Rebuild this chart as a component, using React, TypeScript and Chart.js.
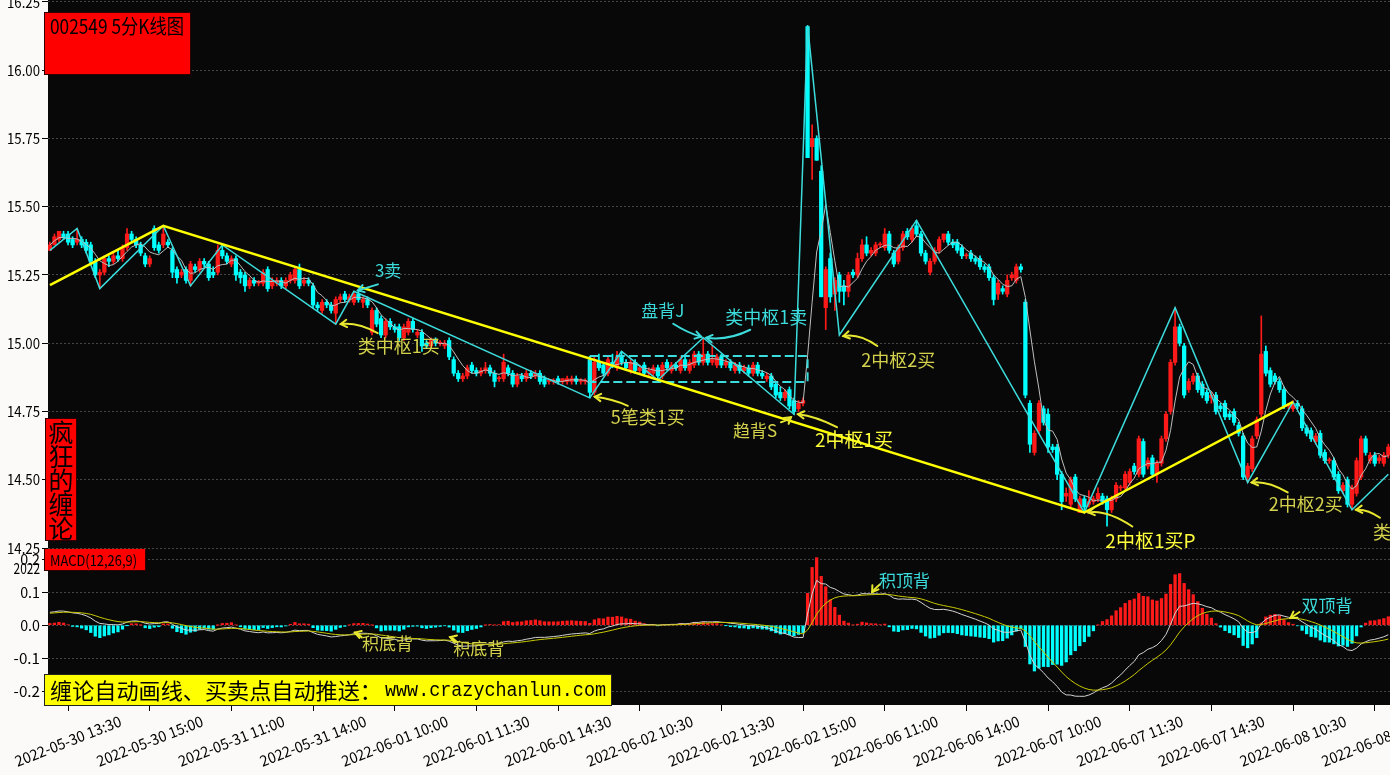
import React, { useEffect, useRef } from "react";
import { Chart, registerables } from "chart.js";

Chart.register(...registerables);

type Bar = [number, number, number, number]; // open, high, low, close

// ---------------- 5-minute candles, per trading day ----------------
const d0530: Bar[] = [
  [15.34,15.37,15.34,15.36],[15.36,15.40,15.36,15.39],[15.38,15.41,15.37,15.41],[15.40,15.41,15.38,15.39],
  [15.40,15.41,15.36,15.37],[15.38,15.39,15.35,15.36],[15.37,15.42,15.36,15.38],[15.38,15.39,15.35,15.36],
  [15.37,15.38,15.33,15.34],[15.36,15.37,15.29,15.30],[15.30,15.31,15.24,15.25],[15.25,15.27,15.20,15.26],
  [15.26,15.32,15.25,15.31],[15.31,15.32,15.28,15.30],[15.30,15.33,15.29,15.32],[15.32,15.34,15.30,15.31],
  [15.31,15.36,15.30,15.35],[15.35,15.42,15.34,15.40],[15.40,15.41,15.37,15.38],[15.38,15.39,15.35,15.36],
  [15.36,15.37,15.32,15.33],[15.32,15.33,15.28,15.29],[15.29,15.32,15.28,15.31],
];
const d0531: Bar[] = [
  [15.42,15.43,15.34,15.35],[15.36,15.37,15.33,15.34],[15.36,15.43,15.35,15.40],[15.37,15.38,15.35,15.36],
  [15.34,15.35,15.24,15.26],[15.27,15.28,15.22,15.24],[15.25,15.27,15.24,15.26],[15.27,15.28,15.22,15.23],
  [15.23,15.30,15.21,15.29],[15.28,15.29,15.26,15.27],[15.27,15.31,15.26,15.30],[15.30,15.31,15.28,15.29],
  [15.29,15.30,15.23,15.24],[15.26,15.28,15.24,15.25],[15.26,15.36,15.25,15.34],[15.34,15.36,15.31,15.32],
  [15.32,15.33,15.29,15.30],[15.29,15.32,15.28,15.31],[15.31,15.32,15.23,15.25],[15.26,15.27,15.22,15.24],
  [15.25,15.26,15.19,15.21],[15.21,15.24,15.20,15.23],[15.23,15.24,15.21,15.22],[15.22,15.23,15.21,15.22],
  [15.22,15.27,15.21,15.26],[15.27,15.28,15.19,15.20],[15.21,15.24,15.20,15.23],[15.22,15.24,15.21,15.23],
  [15.23,15.24,15.20,15.21],[15.21,15.24,15.20,15.23],[15.23,15.26,15.22,15.25],[15.23,15.28,15.22,15.27],
  [15.27,15.29,15.20,15.21],[15.22,15.24,15.21,15.23],[15.23,15.24,15.21,15.22],[15.21,15.22,15.13,15.14],
  [15.14,15.15,15.12,15.13],[15.12,15.16,15.11,15.15],[15.15,15.16,15.13,15.14],[15.14,15.15,15.11,15.12],
  [15.11,15.17,15.07,15.16],[15.16,15.18,15.15,15.17],[15.18,15.19,15.15,15.16],[15.16,15.18,15.15,15.17],
  [15.15,15.19,15.14,15.18],[15.18,15.19,15.15,15.16],[15.15,15.17,15.13,15.16],[15.16,15.17,15.13,15.14],
];
const d0601: Bar[] = [
  [15.04,15.13,15.03,15.12],[15.12,15.13,15.06,15.07],[15.09,15.10,15.02,15.03],[15.03,15.09,15.02,15.08],
  [15.08,15.09,15.05,15.06],[15.06,15.07,15.04,15.05],[15.06,15.07,15.01,15.02],[15.02,15.07,15.01,15.06],
  [15.04,15.09,15.03,15.08],[15.08,15.09,15.04,15.05],[15.03,15.05,15.02,15.04],[15.04,15.05,14.97,14.99],
  [15.00,15.01,14.98,14.99],[14.99,15.02,14.98,15.01],[15.01,15.02,14.99,15.00],[15.00,15.01,14.99,15.00],
  [14.99,15.01,14.98,15.00],[15.01,15.02,14.94,14.95],[14.94,14.95,14.88,14.89],[14.89,14.90,14.86,14.87],
  [14.87,14.89,14.86,14.88],[14.88,14.92,14.87,14.91],[14.92,14.93,14.89,14.90],[14.90,14.91,14.88,14.89],
  [14.89,14.91,14.88,14.90],[14.90,14.93,14.89,14.91],[14.91,14.92,14.88,14.89],[14.89,14.90,14.84,14.86],
  [14.87,14.88,14.86,14.87],[14.87,14.96,14.86,14.93],[14.91,14.92,14.88,14.89],[14.89,14.90,14.84,14.85],
  [14.85,14.89,14.84,14.88],[14.88,14.89,14.86,14.87],[14.87,14.90,14.86,14.89],[14.89,14.90,14.87,14.88],
  [14.88,14.90,14.87,14.89],[14.89,14.90,14.85,14.86],[14.87,14.88,14.84,14.85],[14.86,14.87,14.85,14.86],
  [14.86,14.87,14.85,14.86],[14.87,14.88,14.85,14.86],[14.86,14.87,14.85,14.87],[14.86,14.88,14.85,14.87],
  [14.86,14.88,14.85,14.87],[14.87,14.88,14.85,14.86],[14.86,14.87,14.85,14.86],[14.86,14.87,14.85,14.86],
];
const d0602: Bar[] = [
  [14.94,14.95,14.80,14.82],[14.82,14.95,14.81,14.93],[14.93,14.96,14.90,14.91],[14.92,14.93,14.88,14.89],
  [14.89,14.95,14.88,14.94],[14.93,14.96,14.91,14.92],[14.91,14.97,14.90,14.95],[14.95,14.97,14.92,14.93],
  [14.93,14.94,14.90,14.91],[14.90,14.94,14.89,14.93],[14.93,14.94,14.89,14.90],[14.90,14.92,14.89,14.91],
  [14.92,14.93,14.88,14.89],[14.89,14.91,14.88,14.90],[14.89,14.92,14.88,14.91],[14.91,14.92,14.87,14.88],
  [14.88,14.93,14.87,14.92],[14.93,14.94,14.90,14.91],[14.90,14.93,14.89,14.92],[14.92,14.93,14.90,14.91],
  [14.90,14.95,14.89,14.94],[14.94,14.95,14.90,14.91],[14.90,14.94,14.89,14.93],[14.92,14.97,14.91,14.96],
  [14.96,14.97,14.92,14.93],[14.93,15.02,14.92,14.96],[14.96,14.97,14.92,14.93],[14.93,14.99,14.92,14.94],
  [14.92,14.96,14.91,14.95],[14.95,14.96,14.91,14.92],[14.92,14.94,14.91,14.93],[14.93,14.94,14.90,14.91],
  [14.90,14.93,14.89,14.92],[14.92,14.93,14.89,14.90],[14.90,14.92,14.89,14.91],[14.91,14.92,14.88,14.89],
  [14.89,14.93,14.88,14.92],[14.92,14.93,14.88,14.89],[14.89,14.90,14.87,14.88],[14.87,14.89,14.86,14.88],
  [14.88,14.89,14.83,14.84],[14.85,14.86,14.80,14.81],[14.82,14.84,14.79,14.80],[14.80,14.83,14.79,14.82],
  [14.83,14.84,14.76,14.77],[14.79,14.80,14.74,14.75],[14.76,14.79,14.75,14.78],[14.78,14.80,14.77,14.79],
];
const d0606: Bar[] = [
  [16.16,16.16,15.68,15.68],[15.72,15.80,15.60,15.75],[15.75,15.76,15.67,15.67],[15.63,15.65,15.17,15.17],
  [15.13,15.28,15.05,15.27],[15.31,15.33,15.15,15.17],[15.18,15.24,15.12,15.23],[15.25,15.26,15.15,15.19],
  [15.21,15.23,15.14,15.19],[15.19,15.26,15.17,15.25],[15.26,15.27,15.24,15.25],[15.25,15.33,15.24,15.31],
  [15.31,15.38,15.30,15.36],[15.36,15.39,15.32,15.33],[15.33,15.35,15.32,15.34],[15.33,15.37,15.32,15.36],
  [15.36,15.37,15.35,15.36],[15.35,15.42,15.34,15.40],[15.40,15.41,15.33,15.34],[15.33,15.34,15.28,15.29],
  [15.30,15.36,15.29,15.35],[15.35,15.41,15.34,15.40],[15.41,15.42,15.38,15.39],[15.38,15.43,15.37,15.42],
  [15.43,15.45,15.39,15.40],[15.40,15.41,15.32,15.33],[15.33,15.34,15.29,15.30],[15.26,15.31,15.25,15.30],
  [15.30,15.35,15.29,15.34],[15.34,15.39,15.33,15.38],[15.38,15.40,15.37,15.40],[15.40,15.41,15.36,15.37],
  [15.37,15.38,15.35,15.36],[15.37,15.38,15.33,15.34],[15.35,15.36,15.31,15.32],[15.32,15.33,15.31,15.32],
  [15.33,15.34,15.30,15.31],[15.31,15.32,15.29,15.30],[15.31,15.32,15.27,15.28],[15.28,15.29,15.26,15.27],
  [15.28,15.29,15.23,15.24],[15.24,15.25,15.14,15.16],[15.18,15.23,15.16,15.22],[15.20,15.21,15.18,15.19],
  [15.18,15.25,15.17,15.23],[15.24,15.26,15.23,15.25],[15.23,15.29,15.22,15.28],[15.28,15.29,15.26,15.27],
];
const d0607: Bar[] = [
  [15.15,15.16,14.80,14.81],[14.78,14.79,14.60,14.63],[14.60,14.68,14.59,14.67],[14.68,14.79,14.67,14.78],
  [14.76,14.77,14.70,14.71],[14.74,14.76,14.60,14.62],[14.62,14.63,14.60,14.61],[14.62,14.63,14.50,14.52],
  [14.52,14.53,14.39,14.42],[14.44,14.47,14.42,14.45],[14.41,14.51,14.40,14.50],[14.51,14.52,14.42,14.43],
  [14.38,14.44,14.38,14.43],[14.43,14.44,14.38,14.40],[14.41,14.46,14.40,14.42],[14.42,14.44,14.41,14.43],
  [14.43,14.47,14.42,14.45],[14.44,14.45,14.41,14.42],[14.43,14.44,14.33,14.39],[14.39,14.44,14.38,14.43],
  [14.43,14.49,14.42,14.48],[14.47,14.48,14.46,14.47],[14.47,14.53,14.46,14.52],[14.49,14.54,14.48,14.53],
  [14.55,14.56,14.52,14.53],[14.52,14.66,14.51,14.65],[14.64,14.65,14.51,14.52],[14.55,14.58,14.54,14.57],
  [14.58,14.59,14.51,14.52],[14.52,14.57,14.49,14.56],[14.56,14.66,14.55,14.65],[14.65,14.75,14.64,14.74],
  [14.75,14.94,14.74,14.93],[14.93,15.13,14.92,15.06],[15.06,15.07,14.99,15.00],[14.99,15.00,14.80,14.81],
  [14.83,14.87,14.82,14.86],[14.86,14.89,14.85,14.88],[14.88,14.89,14.82,14.83],[14.85,14.86,14.80,14.81],
  [14.82,14.83,14.78,14.79],[14.80,14.82,14.78,14.81],[14.81,14.82,14.74,14.75],[14.77,14.78,14.75,14.76],
  [14.78,14.79,14.72,14.73],[14.74,14.75,14.72,14.73],[14.75,14.76,14.70,14.71],[14.70,14.71,14.66,14.67],
];
const d0608: Bar[] = [
  [14.66,14.67,14.50,14.51],[14.51,14.56,14.49,14.55],[14.54,14.66,14.53,14.65],[14.66,14.73,14.65,14.72],
  [14.74,15.10,14.73,14.96],[14.97,14.99,14.88,14.89],[14.90,14.91,14.84,14.85],[14.88,14.89,14.85,14.86],
  [14.86,14.87,14.82,14.83],[14.83,14.84,14.76,14.77],[14.77,14.78,14.76,14.77],[14.76,14.79,14.75,14.78],
  [14.78,14.79,14.76,14.77],[14.76,14.77,14.68,14.69],[14.69,14.70,14.66,14.67],[14.68,14.69,14.64,14.65],
  [14.64,14.67,14.63,14.66],[14.67,14.68,14.58,14.59],[14.60,14.61,14.56,14.57],[14.57,14.58,14.56,14.57],
  [14.57,14.58,14.50,14.51],[14.52,14.53,14.45,14.46],[14.46,14.49,14.45,14.48],[14.50,14.51,14.40,14.41],
  [14.41,14.48,14.39,14.47],[14.45,14.58,14.44,14.57],[14.51,14.66,14.50,14.65],[14.65,14.66,14.59,14.60],
  [14.57,14.60,14.56,14.59],[14.59,14.60,14.55,14.56],[14.57,14.59,14.56,14.58],[14.56,14.60,14.55,14.59],
  [14.59,14.63,14.58,14.62],
];

// x-axis tick positions (bar index) and labels
const tickIdx = [4, 22, 40, 58, 76, 94, 112, 130, 148, 166, 184, 202, 220, 238, 256, 274, 292];
const tickLabels = [
  "2022-05-30 13:30", "2022-05-30 15:00", "2022-05-31 11:00", "2022-05-31 14:00",
  "2022-06-01 10:00", "2022-06-01 11:30", "2022-06-01 14:30", "2022-06-02 10:30",
  "2022-06-02 13:30", "2022-06-02 15:00", "2022-06-06 11:00", "2022-06-06 14:00",
  "2022-06-07 10:00", "2022-06-07 11:30", "2022-06-07 14:30", "2022-06-08 10:30",
  "2022-06-08 13:30",
];
const priceTicks = [14.25, 14.5, 14.75, 15.0, 15.25, 15.5, 15.75, 16.0, 16.25];
const macdTicks = [-0.2, -0.1, 0.0, 0.1, 0.2];

// Chan-theory strokes (笔), segments (线段) and pivot box (中枢)
const penIdx = [0, 6, 11, 25, 31, 38, 63, 67, 119, 126, 134, 144, 164, 167, 174, 191, 228, 248, 264, 274, 287, 295];
const penPrice = [15.34, 15.42, 15.20, 15.43, 15.21, 15.36, 15.07, 15.19, 14.80, 14.97, 14.865, 15.02, 14.74, 16.165, 15.03, 15.45, 14.38, 15.13, 14.49, 14.785, 14.39, 14.52];
const segIdx = [0, 25, 228, 274];
const segPrice = [15.213, 15.43, 14.38, 14.785];
const boxIdx = [119, 167];
const boxPrice = [14.858, 14.953];

// MACD(12,26,9) starting state carried over from the bars before the window
const seedEma12 = 15.33;
const seedEma26 = 15.29;
const seedDea = 0.036;

// ---------------- derived series ----------------
const candles: Bar[] = [...d0530, ...d0531, ...d0601, ...d0602, ...d0606, ...d0607, ...d0608];
const closes = candles.map((c) => c[3]);
const ma5 = closes.map((_, i) => {
  const s = closes.slice(Math.max(0, i - 4), i + 1);
  return s.reduce((a, b) => a + b, 0) / s.length;
});
const difArr: number[] = [];
const deaArr: number[] = [];
const histArr: number[] = [];
{
  let e12 = seedEma12, e26 = seedEma26, d = seedDea;
  for (const c of closes) {
    e12 += ((c - e12) * 2) / 13;
    e26 += ((c - e26) * 2) / 27;
    const df = e12 - e26;
    d += ((df - d) * 2) / 10;
    difArr.push(df);
    deaArr.push(d);
    histArr.push(2 * (df - d));
  }
}

const FONT = '"Noto Sans CJK SC", "Noto Sans", sans-serif';
const UP = "#ff1a1a";
const DOWN = "#00ffff";
const CYAN_T = "#3ddcdc";
const KHAKI = "#d4d24c";
const YEL = "#ffff3c";
const YEL_A = "#e8e830";
const X_MIN = -0.42;
const X_MAX = 295.37;

const priceNotes = [
  { text: "3卖", color: CYAN_T, size: 17, idx: 67, val: 15.19, tip: [4, -1], start: [24, -7], ctrl: [14, -4], at: [21, -21], arrow: CYAN_T },
  { text: "类中枢1买", color: KHAKI, size: 18, idx: 63, val: 15.07, tip: [5, 0], start: [42, 9], ctrl: [22, -2], at: [22, 22], arrow: YEL_A },
  { text: "盘背J", color: CYAN_T, size: 17, idx: 144, val: 15.02, tip: [-2, -1], start: [-30, -14], ctrl: [-16, -5], at: [-62, -27], arrow: CYAN_T },
  { text: "类中枢1卖", color: CYAN_T, size: 18, idx: 144, val: 15.02, tip: [3, 0], start: [47, -8], ctrl: [25, 3], at: [22, -21], arrow: CYAN_T },
  { text: "5笔类1买", color: KHAKI, size: 18, idx: 119, val: 14.8, tip: [5, -1], start: [38, 8], ctrl: [22, 1], at: [21, 19], arrow: YEL_A },
  { text: "趋背S", color: KHAKI, size: 17, idx: 164, val: 14.74, tip: [-3, 3], start: [-13, 8], ctrl: [-8, 7], at: [-61, 16], arrow: YEL_A },
  { text: "2中枢1买", color: YEL, size: 19, idx: 164, val: 14.74, tip: [4, 0], start: [43, 13], ctrl: [22, 2], at: [21, 26], arrow: YEL_A },
  { text: "2中枢2买", color: KHAKI, size: 18, idx: 174, val: 15.03, tip: [4, 1], start: [38, 11], ctrl: [20, -2], at: [22, 25], arrow: YEL_A },
  { text: "2中枢1买P", color: YEL, size: 19, idx: 228, val: 14.38, tip: [4, 0], start: [48, 14], ctrl: [22, -3], at: [21, 28], arrow: YEL_A },
  { text: "2中枢2买", color: KHAKI, size: 18, idx: 264, val: 14.49, tip: [4, 0], start: [40, 10], ctrl: [20, -2], at: [21, 22], arrow: YEL_A },
  { text: "类", color: KHAKI, size: 18, idx: 287, val: 14.39, tip: [4, 0], start: [28, 8], ctrl: [15, -1], at: [21, 22], arrow: YEL_A },
];
const macdNotes = [
  { text: "积顶背", color: CYAN_T, size: 17, idx: 181, val: 0.1, tip: [1, 0], start: [9, -8], ctrl: [3, -3], at: [8, -12], arrow: YEL_A },
  { text: "双顶背", color: CYAN_T, size: 17, idx: 273, val: 0.022, tip: [2, 0], start: [11, -6], ctrl: [5, -2], at: [13, -12], arrow: YEL_A },
  { text: "积底背", color: KHAKI, size: 17, idx: 67, val: -0.022, tip: [1, 0], start: [8, 5], ctrl: [4, 1], at: [8, 11], arrow: YEL_A },
  { text: "积底背", color: KHAKI, size: 17, idx: 88, val: -0.036, tip: [1, 0], start: [8, 5], ctrl: [4, 1], at: [4, 11], arrow: YEL_A },
];

function fitText(ctx: any, text: string, x: number, y: number, w: number) {
  const m = ctx.measureText(text).width || 1;
  ctx.save();
  ctx.translate(x, y);
  ctx.scale(w / m, 1);
  ctx.fillText(text, 0, 0);
  ctx.restore();
}

// half-width style axis text: each character gets a fixed advance, right-aligned at xr
function axisText(ctx: any, text: string, xr: number, y: number) {
  ctx.save();
  ctx.font = `15px ${FONT}`;
  ctx.fillStyle = "#000";
  ctx.textBaseline = "middle";
  ctx.textAlign = "left";
  fitText(ctx, text, xr - text.length * 6.6, y, text.length * 6.6);
  ctx.restore();
}

function drawYLabels(chart: any, digits: number) {
  const ys = chart.scales.y;
  const ctx = chart.ctx;
  for (const t of ys.ticks) {
    axisText(ctx, Number(t.value).toFixed(digits), 40, ys.getPixelForValue(t.value));
  }
}

function drawNotes(chart: any, notes: any[]) {
  const ctx = chart.ctx;
  const xs = chart.scales.x;
  const ys = chart.scales.y;
  for (const n of notes) {
    const bx = xs.getPixelForValue(n.idx);
    const by = ys.getPixelForValue(n.val);
    const tx = bx + n.tip[0], ty = by + n.tip[1];
    const sx = bx + n.start[0], sy = by + n.start[1];
    const cx = bx + n.ctrl[0], cy = by + n.ctrl[1];
    ctx.save();
    ctx.strokeStyle = n.arrow;
    ctx.lineWidth = 2;
    ctx.lineCap = "round";
    ctx.beginPath();
    ctx.moveTo(sx, sy);
    ctx.quadraticCurveTo(cx, cy, tx, ty);
    ctx.stroke();
    const ang = Math.atan2(ty - cy, tx - cx);
    const L = 7;
    ctx.beginPath();
    ctx.moveTo(tx - L * Math.cos(ang - 0.55), ty - L * Math.sin(ang - 0.55));
    ctx.lineTo(tx, ty);
    ctx.lineTo(tx - L * Math.cos(ang + 0.55), ty - L * Math.sin(ang + 0.55));
    ctx.stroke();
    ctx.fillStyle = n.color;
    ctx.font = `${n.size}px ${FONT}`;
    ctx.textAlign = "left";
    ctx.textBaseline = "middle";
    ctx.fillText(n.text, bx + n.at[0], by + n.at[1]);
    ctx.restore();
  }
}

const blackArea = {
  id: "blackArea",
  beforeDraw(chart: any) {
    const { ctx, chartArea: a } = chart;
    ctx.save();
    ctx.fillStyle = "#080808";
    ctx.fillRect(a.left, a.top, a.right - a.left, a.bottom - a.top);
    ctx.restore();
  },
};

const priceDeco = {
  id: "priceDeco",
  afterDraw(chart: any) {
    const ctx = chart.ctx;
    drawNotes(chart, priceNotes);
    drawYLabels(chart, 2);
    ctx.save();
    // title box
    ctx.fillStyle = "#ff0000";
    ctx.fillRect(44, 12, 147, 63);
    ctx.strokeStyle = "#300000";
    ctx.lineWidth = 1;
    ctx.strokeRect(44.5, 12.5, 146, 62);
    ctx.fillStyle = "#000";
    ctx.font = `20px ${FONT}`;
    ctx.textBaseline = "middle";
    ctx.textAlign = "left";
    fitText(ctx, "002549 5分K线图", 50, 26, 134);
    // vertical box
    ctx.fillStyle = "#ff0000";
    ctx.fillRect(45, 418, 32, 123);
    ctx.strokeStyle = "#300000";
    ctx.strokeRect(45.5, 418.5, 31, 122);
    ctx.fillStyle = "#000";
    ctx.font = `25px ${FONT}`;
    ctx.textAlign = "center";
    const chars = ["疯", "狂", "的", "缠", "论"];
    chars.forEach((ch, k) => ctx.fillText(ch, 61, 432 + k * 24));
    ctx.restore();
  },
};

const macdDeco = {
  id: "macdDeco",
  afterDraw(chart: any) {
    const ctx = chart.ctx;
    drawNotes(chart, macdNotes);
    drawYLabels(chart, 1);
    ctx.save();
    // MACD label box
    ctx.fillStyle = "#ff0000";
    ctx.fillRect(44, 548, 102, 23);
    ctx.strokeStyle = "#300000";
    ctx.lineWidth = 1;
    ctx.strokeRect(44.5, 548.5, 101, 22);
    ctx.fillStyle = "#000";
    ctx.font = `15px ${FONT}`;
    ctx.textBaseline = "middle";
    ctx.textAlign = "left";
    fitText(ctx, "MACD(12,26,9)", 50, 560, 87);
    // yellow banner
    ctx.fillStyle = "#ffff00";
    ctx.fillRect(44, 674, 568, 32);
    ctx.strokeStyle = "#222";
    ctx.strokeRect(44.5, 674.5, 567, 31);
    ctx.fillStyle = "#000";
    ctx.font = `22px ${FONT}`;
    fitText(ctx, "缠论自动画线、买卖点自动推送：", 50, 691, 332);
    ctx.font = `20px "Liberation Mono", "DejaVu Sans Mono", monospace`;
    fitText(ctx, "www.crazychanlun.com", 385, 691, 221);
    ctx.restore();
    // stray axis text
    axisText(ctx, "2022", 40, 568);
    // x-axis labels (rotated, centred on tick)
    ctx.save();
    const xs = chart.scales.x;
    ctx.fillStyle = "#000";
    ctx.font = `15px ${FONT}`;
    ctx.textAlign = "center";
    ctx.textBaseline = "middle";
    tickIdx.forEach((idx, k) => {
      const x = xs.getPixelForValue(idx);
      ctx.save();
      ctx.translate(x, 741);
      ctx.rotate((-21.5 * Math.PI) / 180);
      const m = ctx.measureText(tickLabels[k]).width || 1;
      ctx.scale(113 / m, 1);
      ctx.fillText(tickLabels[k], 0, 0);
      ctx.restore();
    });
    ctx.restore();
  },
};

function yAxis(min: number, max: number, ticks: number[]) {
  return {
    type: "linear",
    position: "left",
    min,
    max,
    afterFit: (s: any) => {
      s.width = 48;
      s.paddingTop = 0;
      s.paddingBottom = 0;
    },
    afterBuildTicks: (s: any) => {
      s.ticks = ticks.map((v) => ({ value: v }));
    },
    ticks: { display: false },
    grid: { color: "#464646", lineWidth: 1, drawTicks: true, tickLength: 6, tickColor: "#000" },
    border: { display: false, dash: [2, 2] },
  };
}

function priceConfig(): any {
  const colors = candles.map((c) => (c[3] >= c[0] ? UP : DOWN));
  return {
    type: "bar",
    data: {
      datasets: [
        { type: "bar", data: candles.map((c, i) => ({ x: i, y: [c[2], c[1]] })), backgroundColor: colors, barThickness: 1, grouped: false, order: 6 },
        { type: "bar", data: candles.map((c, i) => ({ x: i, y: [c[0], c[3]] })), backgroundColor: colors, barThickness: 3.6, minBarLength: 1, grouped: false, order: 5 },
        { type: "line", data: ma5.map((v, i) => ({ x: i, y: v })), borderColor: "#bdbdbd", borderWidth: 1, pointRadius: 0, order: 4 },
        {
          type: "line",
          data: [
            { x: boxIdx[0], y: boxPrice[1] }, { x: boxIdx[1], y: boxPrice[1] },
            { x: boxIdx[1], y: boxPrice[0] }, { x: boxIdx[0], y: boxPrice[0] },
            { x: boxIdx[0], y: boxPrice[1] },
          ],
          borderColor: "#3ddcdc", borderWidth: 2, borderDash: [9, 4], pointRadius: 0, order: 3,
        },
        { type: "line", data: penIdx.map((x, k) => ({ x, y: penPrice[k] })), borderColor: "#3ddcdc", borderWidth: 1.5, pointRadius: 0, order: 2 },
        { type: "line", data: segIdx.map((x, k) => ({ x, y: segPrice[k] })), borderColor: "#ffff00", borderWidth: 2.5, pointRadius: 0, order: 1 },
      ],
    },
    options: {
      responsive: false,
      animation: false,
      devicePixelRatio: 1,
      events: [],
      layout: { padding: { left: 0, right: 0, top: 0, bottom: 227 } },
      plugins: { legend: { display: false }, tooltip: { enabled: false } },
      scales: {
        x: { type: "linear", min: X_MIN, max: X_MAX, display: false, offset: false, grid: { offset: false } },
        y: yAxis(14.25, 16.257, priceTicks),
      },
    },
    plugins: [blackArea, priceDeco],
  };
}

function macdConfig(): any {
  return {
    type: "bar",
    data: {
      datasets: [
        { type: "bar", data: histArr.map((v, i) => ({ x: i, y: v })), backgroundColor: histArr.map((v) => (v >= 0 ? UP : DOWN)), barThickness: 2.6, grouped: false, order: 3 },
        { type: "line", data: difArr.map((v, i) => ({ x: i, y: v })), borderColor: "#d2d2d2", borderWidth: 1, pointRadius: 0, order: 2 },
        { type: "line", data: deaArr.map((v, i) => ({ x: i, y: v })), borderColor: "#c8c800", borderWidth: 1, pointRadius: 0, order: 1 },
      ],
    },
    options: {
      responsive: false,
      animation: false,
      devicePixelRatio: 1,
      events: [],
      layout: { padding: { left: 0, right: 0, top: 548, bottom: 64 } },
      plugins: { legend: { display: false }, tooltip: { enabled: false } },
      scales: {
        x: {
          type: "linear",
          min: X_MIN,
          max: X_MAX,
          offset: false,
          afterBuildTicks: (s: any) => {
            s.ticks = tickIdx.map((v) => ({ value: v }));
          },
          ticks: { display: false },
          grid: { offset: false, drawOnChartArea: false, drawTicks: true, tickLength: 6, color: "#000", tickColor: "#000" },
          border: { display: false },
        },
        y: yAxis(-0.2416, 0.2342, macdTicks),
      },
    },
    plugins: [blackArea, macdDeco],
  };
}

export default function App() {
  const priceRef = useRef<HTMLCanvasElement>(null);
  const macdRef = useRef<HTMLCanvasElement>(null);
  useEffect(() => {
    const c1 = new Chart(macdRef.current as HTMLCanvasElement, macdConfig());
    const c2 = new Chart(priceRef.current as HTMLCanvasElement, priceConfig());
    return () => {
      c1.destroy();
      c2.destroy();
    };
  }, []);
  return (
    <div style={{ position: "fixed", left: 0, top: 0, width: 1390, height: 775, background: "#fcf9f9", overflow: "hidden" }}>
      <canvas ref={macdRef} width={1390} height={775} style={{ position: "absolute", left: 0, top: 0 }} />
      <canvas ref={priceRef} width={1390} height={775} style={{ position: "absolute", left: 0, top: 0 }} />
    </div>
  );
}
